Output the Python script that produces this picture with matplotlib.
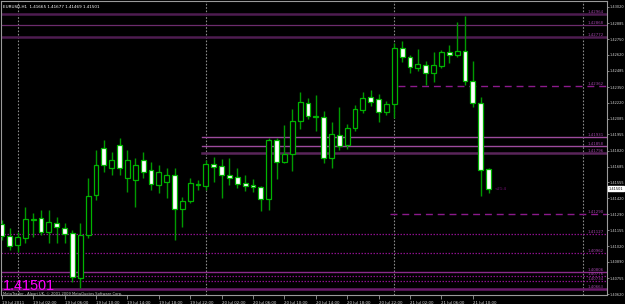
import matplotlib
matplotlib.use("Agg")
import matplotlib.pyplot as plt
import numpy as np

# ---- data (EURUSD H1) ----
opens = [1.41207, 1.41106, 1.41031, 1.41090, 1.41244, 1.41257, 1.41140, 1.41215, 1.41173, 1.41132,
         1.40756, 1.41115, 1.41449, 1.41841, 1.41674, 1.41866, 1.41591, 1.41574, 1.41741, 1.41658,
         1.41532, 1.41557, 1.41616, 1.41332, 1.41399, 1.41536, 1.41524, 1.41708, 1.41691, 1.41616,
         1.41599, 1.41549, 1.41532, 1.41516, 1.41415, 1.41908, 1.41724, 1.41791, 1.42067, 1.42217,
         1.42104, 1.42100, 1.41758, 1.41950, 1.41866, 1.42008, 1.42158, 1.42267, 1.42250, 1.42142,
         1.42209, 1.42676, 1.42601, 1.42509, 1.42534, 1.42468, 1.42526, 1.42643, 1.42618, 1.42651,
         1.42401, 1.42217, 1.41665]
highs = [1.41240, 1.41173, 1.41140, 1.41349, 1.41298, 1.41324, 1.41324, 1.41265, 1.41215, 1.41157,
         1.41215, 1.41591, 1.41825, 1.41908, 1.41808, 1.41925, 1.41825, 1.41758, 1.41808, 1.41724,
         1.41699, 1.41674, 1.41674, 1.41432, 1.41591, 1.41574, 1.41741, 1.41766, 1.41749, 1.41758,
         1.41674, 1.41616, 1.41582, 1.41524, 1.41925, 1.41925, 1.42033, 1.42167, 1.42309, 1.42259,
         1.42284, 1.42150, 1.42058, 1.42184, 1.42042, 1.42200, 1.42309, 1.42326, 1.42292, 1.42234,
         1.42718, 1.42735, 1.42618, 1.42668, 1.42568, 1.42643, 1.42660, 1.42701, 1.42893, 1.42943,
         1.42568, 1.42267, 1.41677]
lows = [1.41073, 1.40990, 1.40973, 1.41048, 1.41098, 1.41115, 1.41048, 1.41048, 1.41048, 1.40722,
        1.40672, 1.41090, 1.41407, 1.41641, 1.41616, 1.41616, 1.41474, 1.41349, 1.41591, 1.41491,
        1.41466, 1.41424, 1.41073, 1.41182, 1.41382, 1.41491, 1.41491, 1.41557, 1.41424, 1.41532,
        1.41507, 1.41482, 1.41474, 1.41315, 1.41324, 1.41582, 1.41716, 1.41649, 1.42000, 1.42083,
        1.41983, 1.41716, 1.41674, 1.41825, 1.41833, 1.41983, 1.42133, 1.42192, 1.42058, 1.42117,
        1.42092, 1.42559, 1.42468, 1.42484, 1.42367, 1.42392, 1.42509, 1.42551, 1.42601, 1.42367,
        1.42184, 1.41441, 1.41469]
closes = [1.41106, 1.41023, 1.41098, 1.41248, 1.41248, 1.41140, 1.41223, 1.41182, 1.41123, 1.40764,
          1.41115, 1.41441, 1.41699, 1.41699, 1.41741, 1.41674, 1.41741, 1.41699, 1.41641, 1.41541,
          1.41641, 1.41616, 1.41332, 1.41399, 1.41549, 1.41541, 1.41708, 1.41687, 1.41616, 1.41591,
          1.41541, 1.41528, 1.41516, 1.41415, 1.41908, 1.41724, 1.41791, 1.42067, 1.42225, 1.42108,
          1.42108, 1.41758, 1.41958, 1.41858, 1.42008, 1.42167, 1.42259, 1.42225, 1.42142, 1.42209,
          1.42676, 1.42601, 1.42518, 1.42543, 1.42468, 1.42534, 1.42643, 1.42618, 1.42651, 1.42401,
          1.42217, 1.41658, 1.41501]

time_labels = ["19 Jul 2011", "19 Jul 02:00", "19 Jul 06:00", "19 Jul 10:00", "19 Jul 14:00",
               "19 Jul 18:00", "19 Jul 22:00", "20 Jul 02:00", "20 Jul 06:00", "20 Jul 10:00",
               "20 Jul 14:00", "20 Jul 18:00", "20 Jul 22:00", "21 Jul 02:00", "21 Jul 06:00",
               "21 Jul 10:00"]
time_label_bars = [0, 4, 8, 12, 16, 20, 24, 28, 32, 36, 40, 44, 48, 52, 56, 60]
day_separator_bars = [2, 26, 50, 74]

price_ticks = [1.43020, 1.42885, 1.42750, 1.42620, 1.42485, 1.42350, 1.42220, 1.42085, 1.41955,
               1.41820, 1.41685, 1.41555, 1.41420, 1.41290, 1.41155, 1.41020, 1.40890, 1.40755,
               1.40620]

# horizontal levels: value, start bar, style key
level_values = [1.42964, 1.42868, 1.42772, 1.42362, 1.41931, 1.41858, 1.41796, 1.41290,
                1.41127, 1.40962, 1.40806, 1.40776, 1.40734, 1.40663]
level_start = [None, None, None, 51, 26, 26, 26, 50, None, None, None, None, None, None]
level_kind = ["thick", "thin", "thick", "dash", "light", "light", "thick2", "dash",
              "dot", "dot", "solid", "dot", "dot", "thick3"]

symbol = "EURUSD,H1"
last_price = 1.41501
copyright_text = "MetaTrader - Alpari UK, \u00a9 2001-2009 MetaQuotes Software Corp."
timer_text = "<21:4"

# ---- figure ----
W, H = 625, 304
fig = plt.figure(figsize=(W / 100, H / 100), dpi=100, facecolor="black")
ax_left, ax_right, ax_top, ax_bot = 0.5, 607, 1, 295
ax = fig.add_axes([ax_left / W, 1 - ax_bot / H, (ax_right - ax_left) / W, (ax_bot - ax_top) / H])
ax.set_facecolor("black")

bar_px = 7.85
first_px = 1.8
ax.set_xlim((ax_left - first_px) / bar_px, (ax_right - first_px) / bar_px)
ax.set_ylim(1.40614, 1.43069)

for s in ax.spines.values():
    s.set_color("#9a9a9a")
    s.set_linewidth(0.8)

# day separators
for b in day_separator_bars:
    ax.axvline(b, color="#8a8a8a", lw=0.8, ls=(0, (1.5, 1.5)), zorder=1)

# levels
styles = {
    "thick": dict(color="#4e1c50", lw=1.8, ls="-"),
    "thin": dict(color="#6c2c6c", lw=0.9, ls="-"),
    "dash": dict(color="#8b1a8b", lw=1.0, ls=(0, (5, 3.5))),
    "light": dict(color="#9c4a9c", lw=1.0, ls="-"),
    "thick2": dict(color="#5a255a", lw=1.8, ls="-"),
    "dot": dict(color="#8b108b", lw=0.9, ls=(0, (1.2, 1.2))),
    "solid": dict(color="#8b2a8b", lw=1.0, ls="-"),
    "thick3": dict(color="#6a1a6a", lw=1.8, ls="-"),
}
xmin, xmax = ax.get_xlim()
for v, st, k in zip(level_values, level_start, level_kind):
    x0 = xmin if st is None else st - 0.5
    ax.plot([x0, xmax], [v, v], zorder=1.5, **styles[k])
    ax.text(xmax - 0.4, v, f"{v:.5f}", color="#a045a8", fontsize=2.8, ha="right", va="bottom",
            zorder=5)

# candles
x = np.arange(len(opens))
o = np.array(opens); c = np.array(closes); hi = np.array(highs); lo = np.array(lows)
ax.vlines(x, lo, hi, color="#009a00", lw=1.0, zorder=2)
bull = c >= o
bottoms = np.minimum(o, c)
heights = np.maximum(np.abs(c - o), 0.00002)
ax.bar(x[bull], heights[bull], bottom=bottoms[bull], width=0.62, color="black",
       edgecolor="#00b400", linewidth=0.9, zorder=3)
ax.bar(x[~bull], heights[~bull], bottom=bottoms[~bull], width=0.62, color="white",
       edgecolor="#00b400", linewidth=0.9, zorder=3)

# axes ticks
ax.yaxis.tick_right()
ax.set_yticks(price_ticks)
ax.set_yticklabels([f"{t:.5f}" for t in price_ticks])
ax.tick_params(axis="y", colors="#9a9a9a", labelcolor="#d8d8d8", labelsize=2.5, length=1.5,
               width=0.6, pad=0.6)
ax.set_xticks(time_label_bars)
ax.set_xticklabels(time_labels)
ax.tick_params(axis="x", colors="#9a9a9a", labelcolor="#d8d8d8", labelsize=2.8, length=3,
               width=0.6, pad=1)
for lbl in ax.get_xticklabels():
    lbl.set_horizontalalignment("left")

# texts
ax.text(0.004, 0.985, f"{symbol}  {opens[-1]:.5f} {highs[-1]:.5f} {lows[-1]:.5f} {closes[-1]:.5f}",
        transform=ax.transAxes, color="white", fontsize=3.0, ha="left", va="top")
fig.text(3 / W, 1 - 290 / H, f"{last_price:.5f}", color="#ff00ff", fontsize=10.4,
         family="Liberation Sans", ha="left", va="baseline")
fig.text(3 / W, 1 - 294.5 / H, copyright_text, color="#c8c8c8", fontsize=2.6, ha="left",
         va="baseline")
ax.text(len(opens) - 1 + 0.8, closes[-1], timer_text, color="#7a107a", fontsize=2.8,
        ha="left", va="center")

# current price box on the axis
ax.text(1.003, last_price, f"{last_price:.5f}", transform=ax.get_yaxis_transform(),
        color="black", fontsize=2.5, ha="left", va="center",
        bbox=dict(boxstyle="square,pad=0.15", fc="white", ec="white"), clip_on=False)

fig.savefig("out.png", dpi=100, facecolor="black")
